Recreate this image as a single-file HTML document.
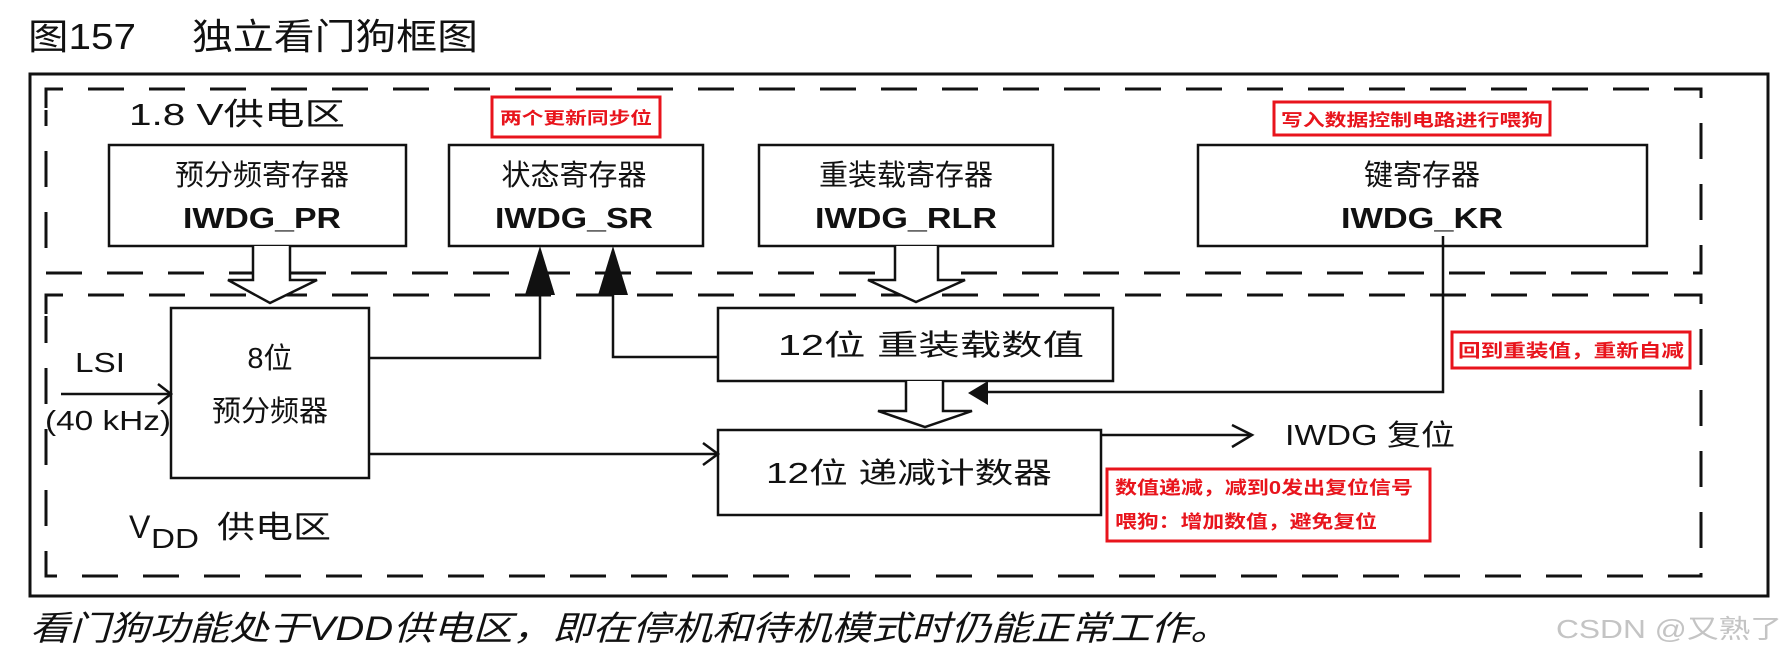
<!DOCTYPE html>
<html><head><meta charset="utf-8"><style>
html,body{margin:0;padding:0;background:#fff;}
svg{display:block;}
text{font-family:"Liberation Sans","Noto Sans CJK SC",sans-serif;fill:#111;}
.r{fill:#e8141c;font-weight:bold;}
</style></head><body>
<svg width="1786" height="658" viewBox="0 0 1786 658" xmlns="http://www.w3.org/2000/svg">
<text x="28" y="49" font-size="36" textLength="108" lengthAdjust="spacingAndGlyphs">图157</text>
<text x="192" y="49" font-size="36" textLength="286" lengthAdjust="spacingAndGlyphs">独立看门狗框图</text>

<rect x="30" y="74" width="1738" height="522" fill="none" stroke="#111" stroke-width="3"/>

<g fill="none" stroke="#111" stroke-width="3" stroke-dasharray="36,25">
<path d="M46 108 V89 H1701 V273 H46 V110"/>
<path d="M46 314 V295 H1701 V576 H46 V316"/>
</g>

<text x="129" y="125" font-size="31" textLength="216" lengthAdjust="spacingAndGlyphs">1.8 V供电区</text>

<g fill="#fff" stroke="#111" stroke-width="2.5">
<rect x="109" y="145" width="297" height="101"/>
<rect x="449" y="145" width="254" height="101"/>
<rect x="759" y="145" width="294" height="101"/>
<rect x="1198" y="145" width="449" height="101"/>
</g>
<g font-size="29" text-anchor="middle">
<text x="262" y="185">预分频寄存器</text>
<text x="574" y="185">状态寄存器</text>
<text x="906" y="185">重装载寄存器</text>
<text x="1422" y="185">键寄存器</text>
</g>
<g font-size="29" font-weight="bold" text-anchor="middle">
<text x="262" y="228" textLength="158" lengthAdjust="spacingAndGlyphs">IWDG_PR</text>
<text x="574" y="228" textLength="158" lengthAdjust="spacingAndGlyphs">IWDG_SR</text>
<text x="906" y="228" textLength="182" lengthAdjust="spacingAndGlyphs">IWDG_RLR</text>
<text x="1422" y="228" textLength="162" lengthAdjust="spacingAndGlyphs">IWDG_KR</text>
</g>

<!-- red notes -->
<g fill="#fff" stroke="#e8141c" stroke-width="3">
<rect x="492" y="97" width="168" height="40"/>
<rect x="1274" y="102" width="276" height="33"/>
<rect x="1452" y="332" width="238" height="36"/>
<rect x="1107" y="469" width="323" height="72"/>
</g>
<text class="r" x="500" y="124" font-size="17" textLength="152" lengthAdjust="spacingAndGlyphs">两个更新同步位</text>
<text class="r" x="1281" y="126" font-size="17" textLength="262" lengthAdjust="spacingAndGlyphs">写入数据控制电路进行喂狗</text>
<text class="r" x="1458" y="357" font-size="18" textLength="226" lengthAdjust="spacingAndGlyphs">回到重装值，重新自减</text>
<text class="r" x="1115" y="494" font-size="18" textLength="298" lengthAdjust="spacingAndGlyphs">数值递减，减到0发出复位信号</text>
<text class="r" x="1115" y="528" font-size="18" textLength="262" lengthAdjust="spacingAndGlyphs">喂狗：增加数值，避免复位</text>

<!-- lower boxes -->
<g fill="#fff" stroke="#111" stroke-width="2.5">
<rect x="171" y="308" width="198" height="170"/>
<rect x="718" y="308" width="395" height="73"/>
<rect x="718" y="430" width="383" height="85"/>
</g>
<text x="270" y="368" font-size="29" text-anchor="middle">8位</text>
<text x="270" y="421" font-size="29" text-anchor="middle">预分频器</text>
<text x="778" y="355" font-size="29" textLength="306" lengthAdjust="spacingAndGlyphs">12位 重装载数值</text>
<text x="766" y="483" font-size="29" textLength="286" lengthAdjust="spacingAndGlyphs">12位 递减计数器</text>

<!-- hollow arrows -->
<g fill="#fff" stroke="#111" stroke-width="2.5" stroke-linejoin="miter">
<path d="M253 246 V280 H228 L270 303 L317 280 H290 V246"/>
<path d="M895 246 V280 H868 L916 302 L965 280 H938 V246"/>
<path d="M906 381 V411 H878 L925 427 L972 411 H943 V381"/>
</g>

<!-- lines -->
<g fill="none" stroke="#111" stroke-width="2.5">
<path d="M369 358 H540 V270"/>
<path d="M718 357 H613 V270"/>
<path d="M61 394 H171"/>
<path d="M158 384 L171 394 L158 404"/>
<path d="M369 454 H718"/>
<path d="M703 443 L718 454 L703 465"/>
<path d="M1443 236 V392 H985"/>
<path d="M1101 435 H1252"/>
<path d="M1232 425 L1252 435 L1232 447"/>
</g>
<g fill="#111">
<polygon points="540,246 525,295 555,295"/>
<polygon points="613,246 598,295 628,295"/>
<polygon points="968,393 988,381 988,405"/>
</g>

<text x="75" y="372" font-size="28" textLength="50" lengthAdjust="spacingAndGlyphs">LSI</text>
<text x="45" y="430" font-size="28" textLength="126" lengthAdjust="spacingAndGlyphs">(40 kHz)</text>
<text x="1285" y="445" font-size="29" textLength="170" lengthAdjust="spacingAndGlyphs">IWDG 复位</text>

<text x="129" y="538" font-size="32">V</text>
<text x="151" y="548" font-size="28" textLength="48" lengthAdjust="spacingAndGlyphs">DD</text>
<text x="217" y="538" font-size="31" textLength="114" lengthAdjust="spacingAndGlyphs">供电区</text>

<text x="30" y="640" font-size="34" font-style="italic" textLength="1200" lengthAdjust="spacingAndGlyphs">看门狗功能处于VDD供电区，即在停机和待机模式时仍能正常工作。</text>
<text x="1556" y="638" font-size="26" style="fill:#c4c4c4" textLength="226" lengthAdjust="spacingAndGlyphs">CSDN @又熟了</text>
</svg>
</body></html>
